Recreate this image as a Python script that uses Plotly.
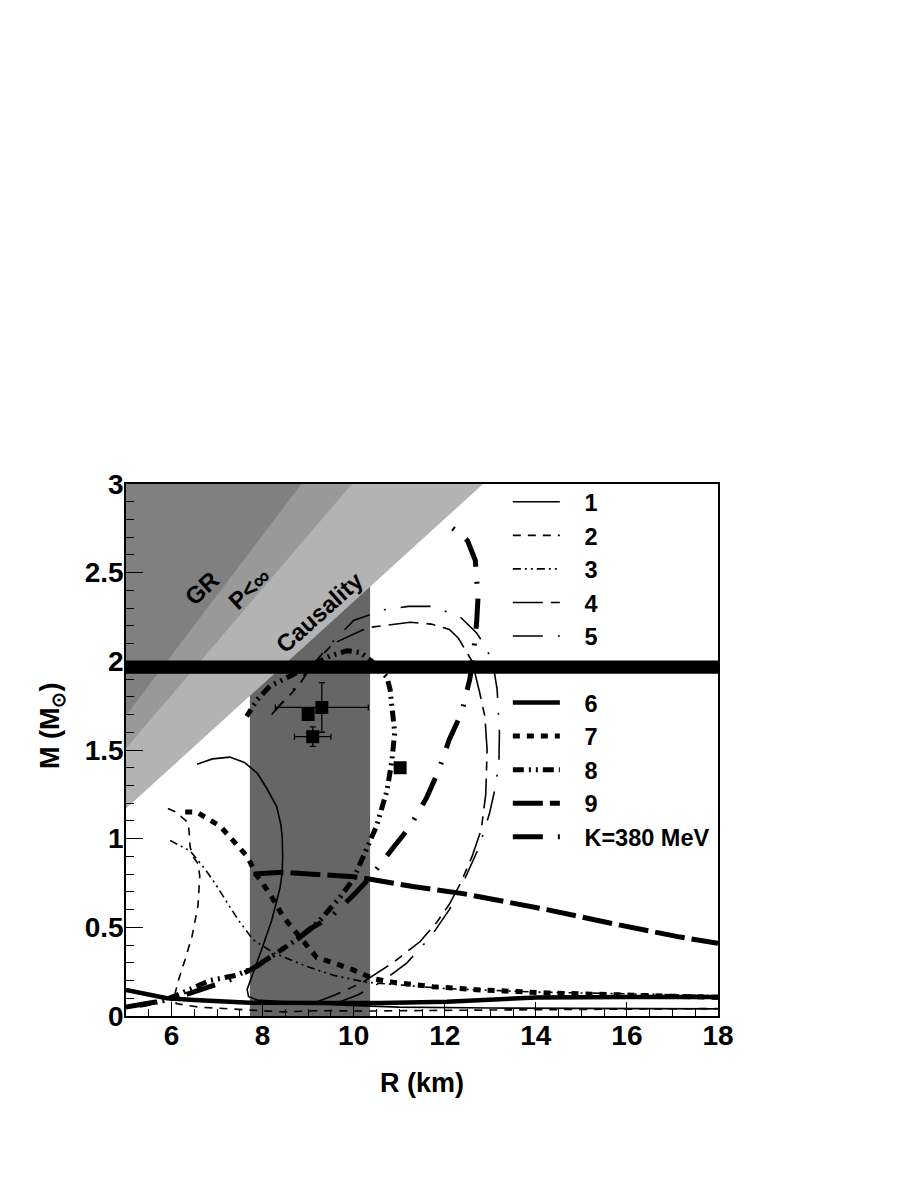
import plotly.graph_objects as go

# ---------------- data ----------------
# curve 1 (thin solid)
R1 = [6.56, 6.9, 7.28, 7.6, 7.88, 8.1, 8.31, 8.4, 8.43, 8.44, 8.43, 8.38, 8.3, 8.2, 8.0, 7.79, 7.66, 7.69, 7.88, 8.8, 9.9, 11.0, 13.0, 18.0]
M1 = [1.42, 1.45, 1.46, 1.43, 1.37, 1.28, 1.18, 1.08, 1.01, 0.90, 0.81, 0.72, 0.64, 0.54, 0.39, 0.24, 0.15, 0.11, 0.09, 0.075, 0.06, 0.05, 0.045, 0.04]
# curve 2 (thin dashed)
R2 = [5.92, 6.1, 6.23, 6.37, 6.41, 6.47, 6.58, 6.62, 6.58, 6.45, 6.3, 6.15, 6.08, 6.1, 6.6, 7.57, 8.45, 9.2, 10.3, 12.0, 14.0, 16.0, 18.0]
M2 = [1.17, 1.15, 1.12, 1.09, 0.95, 0.90, 0.86, 0.79, 0.62, 0.45, 0.32, 0.20, 0.13, 0.07, 0.05, 0.034, 0.023, 0.03, 0.028, 0.032, 0.035, 0.038, 0.042]
# curve 3 (thin dash-dot-dot)
R3 = [5.97, 6.2, 6.41, 6.73, 6.95, 7.22, 7.47, 7.79, 8.25, 8.97, 9.55, 10.28, 11.0, 12.0, 14.0, 16.0, 18.0]
M3 = [0.99, 0.96, 0.93, 0.83, 0.75, 0.64, 0.54, 0.43, 0.355, 0.28, 0.23, 0.19, 0.175, 0.155, 0.135, 0.125, 0.115]
# curve 4 (thin long dash - short dash)
R4 = [9.1, 9.6, 10.2, 10.86, 11.46, 11.83, 12.1, 12.35, 12.6, 12.8, 12.9, 12.93, 12.88, 12.77, 12.6, 12.3, 12.1, 11.7, 11.24, 10.3, 9.55, 9.1, 8.78, 8.27]
M4 = [0.07, 0.12, 0.19, 0.30, 0.42, 0.53, 0.63, 0.75, 0.90, 1.05, 1.25, 1.50, 1.69, 1.82, 2.00, 2.13, 2.18, 2.21, 2.22, 2.19, 2.10, 1.98, 1.86, 1.72]
# curve 5 (thin long dash - dot)
R5 = [9.6, 10.1, 10.6, 11.17, 11.7, 12.1, 12.45, 12.75, 12.98, 13.12, 13.19, 13.2, 13.15, 13.05, 12.85, 12.7, 12.34, 11.74, 11.2, 10.64, 10.0, 9.5, 9.0, 8.6, 8.2]
M5 = [0.07, 0.12, 0.19, 0.30, 0.45, 0.60, 0.78, 0.95, 1.14, 1.30, 1.44, 1.60, 1.84, 2.00, 2.10, 2.16, 2.25, 2.31, 2.31, 2.29, 2.23, 2.10, 1.95, 1.82, 1.70]
# curve 6 (thick solid)
R6 = [5.0, 5.5, 5.9, 6.5, 7.72, 9.55, 10.58, 12.05, 13.0, 14.0, 16.0, 18.0]
M6 = [0.147, 0.12, 0.10, 0.09, 0.075, 0.073, 0.073, 0.08, 0.095, 0.105, 0.107, 0.107]
# curve 7 (thick dotted)
R7 = [6.3, 6.55, 7.07, 7.66, 7.88, 8.16, 8.45, 8.86, 9.19, 9.55, 9.99, 10.43, 10.86, 11.74, 12.8, 14.24, 15.7, 18.0]
M7 = [1.15, 1.15, 1.07, 0.90, 0.79, 0.69, 0.56, 0.43, 0.33, 0.30, 0.26, 0.21, 0.19, 0.165, 0.147, 0.13, 0.12, 0.105]
# curve 8 (thick dash-dot-dot)
R8 = [5.3, 5.8, 6.23, 6.84, 7.43, 7.87, 8.31, 8.82, 9.26, 9.7, 9.99, 10.29, 10.5, 10.73, 10.84, 10.9, 10.8, 10.73, 10.4, 10.14, 9.85, 9.48, 9.0, 8.53, 8.16, 7.87, 7.65]
M8 = [0.06, 0.085, 0.13, 0.20, 0.23, 0.28, 0.355, 0.445, 0.54, 0.67, 0.77, 0.94, 1.07, 1.27, 1.44, 1.60, 1.84, 1.91, 2.00, 2.05, 2.06, 2.03, 1.97, 1.91, 1.86, 1.78, 1.69]
# curve 9 (thick long dashes)
R9 = [7.8, 8.43, 9.1, 10.0, 10.4, 11.3, 12.4, 12.77, 13.72, 14.24, 15.7, 17.17, 18.0]
M9 = [0.80, 0.81, 0.80, 0.785, 0.77, 0.73, 0.69, 0.673, 0.626, 0.60, 0.52, 0.445, 0.41]
# K = 380 MeV (thick long dash - tick)
RK = [5.0, 5.5, 5.9, 6.3, 6.6, 7.0, 7.35, 7.8, 8.4, 8.8, 9.1, 9.5, 9.95, 10.36, 10.84, 11.24, 11.6, 11.86, 12.1, 12.37, 12.55, 12.62, 12.7, 12.73, 12.67, 12.5, 12.38, 12.07]
MK = [0.05, 0.07, 0.09, 0.12, 0.145, 0.18, 0.21, 0.27, 0.37, 0.44, 0.50, 0.56, 0.67, 0.78, 0.94, 1.07, 1.23, 1.38, 1.56, 1.71, 1.90, 2.02, 2.22, 2.36, 2.57, 2.68, 2.71, 2.77]

# observed stars (squares with error bars)
obs_R = [9.0, 9.3, 9.1, 11.02]
obs_M = [1.70, 1.74, 1.575, 1.40]
obs_dR = [0.0, 1.02, 0.40, 0.0]
obs_dM = [0.0, 0.14, 0.055, 0.0]

# excluded regions (polygons, R in km / M in Msun)
caus_R = [5.0, 12.84, 5.0]
caus_M = [1.17, 3.0, 3.0]
pinf_R = [5.0, 9.96, 5.0]
pinf_M = [1.51, 3.0, 3.0]
gr_R = [5.0, 8.85, 5.0]
gr_M = [1.695, 3.0, 3.0]
band_R = [7.72, 10.36, 10.36, 7.72]
band_M = [0.0, 0.0, 2.42, 2.42]
bar_R = [5.0, 18.0, 18.0, 5.0]
bar_M = [1.93, 1.93, 2.005, 2.005]

FONT = "Liberation Sans, Arial, Helvetica, sans-serif"
SP = "\u00a0\u00a0\u00a0"

fig = go.Figure()

def poly(xs, ys, color):
    fig.add_trace(go.Scatter(x=xs, y=ys, fill="toself", fillcolor=color, mode="lines",
                             line=dict(width=0, color=color), showlegend=False, hoverinfo="skip"))

poly(band_R, band_M, "#666666")
poly(caus_R, caus_M, "#b3b3b3")
poly(pinf_R, pinf_M, "#999999")
poly(gr_R, gr_M, "#808080")

curves = [
    ("1", R1, M1, 1.6, "solid", "a"),
    ("2", R2, M2, 1.6, "8px,7px", "a"),
    ("3", R3, M3, 1.6, "8px,4px,2px,4px,2px,4px", "a"),
    ("4", R4, M4, 1.6, "30px,8px,9px,8px", "a"),
    ("5", R5, M5, 1.6, "30px,15px,2px,15px", "a"),
    ("6", R6, M6, 4.5, "solid", "b"),
    ("7", R7, M7, 5, "7px,7px", "b"),
    ("8", R8, M8, 5, "11px,5px,2px,5px,2px,5px", "b"),
    ("9", R9, M9, 5, "30px,7px", "b"),
    ("K=380 MeV", RK, MK, 5, "30px,15px,2px,15px", "b"),
]
for name, xs, ys, w, dash, grp in curves:
    fig.add_trace(go.Scatter(x=xs, y=ys, mode="lines", name=SP + name, legendgroup=grp,
                             line=dict(color="black", width=w, dash=dash), hoverinfo="skip"))

fig.add_trace(go.Scatter(
    x=obs_R, y=obs_M, mode="markers", showlegend=False,
    marker=dict(symbol="square", size=13, color="black"),
    error_x=dict(type="data", array=obs_dR, color="black", thickness=1.3, width=3),
    error_y=dict(type="data", array=obs_dM, color="black", thickness=1.3, width=3),
))

poly(bar_R, bar_M, "black")

fig.update_layout(
    width=905, height=1174,
    margin=dict(l=118, r=195, t=476, b=166),
    paper_bgcolor="white", plot_bgcolor="white",
    font=dict(family=FONT, color="black"),
    showlegend=True,
    legend=dict(x=0.645, y=1.0075, xanchor="left", yanchor="top",
                bgcolor="rgba(0,0,0,0)", borderwidth=0,
                itemwidth=47, traceorder="grouped", tracegroupgap=33,
                font=dict(family=FONT, size=23.5, weight="bold", color="black")),
)
fig.update_xaxes(range=[5, 18], dtick=2, tick0=0, ticks="inside", ticklen=14, tickwidth=1.3,
                 tickcolor="black", showline=True, linecolor="black", linewidth=1.5, mirror=True,
                 showgrid=False, zeroline=False, ticklabelstandoff=-6,
                 tickfont=dict(family=FONT, size=28, weight="bold", color="black"),
                 minor=dict(dtick=0.5, ticks="inside", ticklen=7, tickwidth=1.2, tickcolor="black", showgrid=False))
fig.update_yaxes(range=[0, 3], dtick=0.5, tick0=0, ticks="inside", ticklen=17, tickwidth=1.3,
                 tickcolor="black", showline=True, linecolor="black", linewidth=1.5, mirror=True,
                 showgrid=False, zeroline=False, ticklabelstandoff=-5,
                 tickfont=dict(family=FONT, size=28, weight="bold", color="black"),
                 minor=dict(dtick=0.1, ticks="inside", ticklen=8, tickwidth=1.2, tickcolor="black", showgrid=False))

# axis titles
fig.add_annotation(text="R (km)", xref="paper", yref="paper", x=0.5, y=-0.126,
                   showarrow=False, xanchor="center", yanchor="middle",
                   font=dict(family=FONT, size=27, weight="bold", color="black"))
fig.add_annotation(text="M (M<sub>⊙</sub>)", xref="paper", yref="paper", x=-0.125, y=0.545,
                   showarrow=False, xanchor="center", yanchor="middle", textangle=-90,
                   font=dict(family=FONT, size=27, weight="bold", color="black"))

# region labels
lab_font = dict(family=FONT, size=24, weight="bold", color="black")
fig.add_annotation(text="GR", x=6.66, y=2.41, showarrow=False, textangle=-43, font=lab_font)
fig.add_annotation(text="P&lt;∞", x=7.72, y=2.41, showarrow=False, textangle=-43, font=lab_font)
fig.add_annotation(text="Causality", x=9.24, y=2.275, showarrow=False, textangle=-42, font=lab_font)

fig.write_html("out.html")
